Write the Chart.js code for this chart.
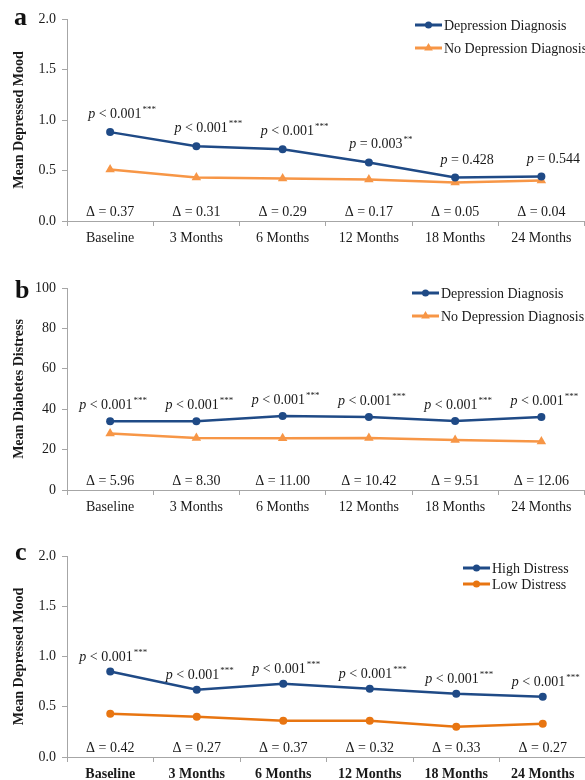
<!DOCTYPE html>
<html>
<head>
<meta charset="utf-8">
<script src="https://cdn.jsdelivr.net/npm/chart.js@4.4.1/dist/chart.umd.min.js"></script>
<style>
html, body { margin: 0; padding: 0; background: #fff; overflow: hidden; }
body { width: 585px; height: 780px; position: relative; }
.panel { position: absolute; left: 0; }
.tag { position: absolute; font: bold 26px 'Liberation Serif', serif; line-height: 1; color: #111; }
</style>
</head>
<body>
<div class="panel" style="top:0"><canvas id="chart-a" width="590" height="250"></canvas></div>
<div class="panel" style="top:270px"><canvas id="chart-b" width="590" height="250"></canvas></div>
<div class="panel" style="top:520px"><canvas id="chart-c" width="590" height="260"></canvas></div>
<div class="tag" style="left:14px;top:4px">a</div>
<div class="tag" style="left:15px;top:277px">b</div>
<div class="tag" style="left:15px;top:539px">c</div>
<script>
const SERIF = "'Liberation Serif', 'Times New Roman', serif";

const timepoints = ['Baseline', '3 Months', '6 Months', '12 Months', '18 Months', '24 Months'];

// panel a - depressed mood by depression diagnosis
const moodDepression = [0.88, 0.74, 0.71, 0.58, 0.43, 0.44];
const moodNoDepression = [0.51, 0.43, 0.42, 0.41, 0.38, 0.40];
const moodPValues = ['< 0.001', '< 0.001', '< 0.001', '= 0.003', '= 0.428', '= 0.544'];
const moodStars = ['***', '***', '***', '**', '', ''];
const moodDeltas = ['0.37', '0.31', '0.29', '0.17', '0.05', '0.04'];
const moodTicks = [0, 0.5, 1, 1.5, 2];

// panel b - diabetes distress by depression diagnosis
const distressDepression = [34.0, 34.0, 36.6, 36.1, 34.2, 36.1];
const distressNoDepression = [28.0, 25.7, 25.6, 25.7, 24.7, 24.0];
const distressPValues = ['< 0.001', '< 0.001', '< 0.001', '< 0.001', '< 0.001', '< 0.001'];
const distressStars = ['***', '***', '***', '***', '***', '***'];
const distressDeltas = ['5.96', '8.30', '11.00', '10.42', '9.51', '12.06'];
const distressTicks = [0, 20, 40, 60, 80, 100];

// panel c - depressed mood by distress level
const moodHighDistress = [0.85, 0.67, 0.73, 0.68, 0.63, 0.60];
const moodLowDistress = [0.43, 0.40, 0.36, 0.36, 0.30, 0.33];
const levelPValues = ['< 0.001', '< 0.001', '< 0.001', '< 0.001', '< 0.001', '< 0.001'];
const levelStars = ['***', '***', '***', '***', '***', '***'];
const levelDeltas = ['0.42', '0.27', '0.37', '0.32', '0.33', '0.27'];

const BLUE = '#1F4A86';
const ORANGE_LIGHT = '#F79646';
const ORANGE = '#E87511';
const TEXT = '#1a1a1a';
const AXIS = '#A6A6A6';

function drawMarker(ctx, style, x, y, r, color) {
    ctx.fillStyle = color;
    ctx.beginPath();
    if (style === 'triangle') {
        ctx.moveTo(x, y - r);
        ctx.lineTo(x + r * 0.87, y + r * 0.5);
        ctx.lineTo(x - r * 0.87, y + r * 0.5);
        ctx.closePath();
    } else {
        ctx.arc(x, y, r, 0, Math.PI * 2);
    }
    ctx.fill();
}

function drawPLabel(ctx, cx, cy, text, stars) {
    const italic = `italic 14px ${SERIF}`;
    const regular = `14px ${SERIF}`;
    const small = `9px ${SERIF}`;
    ctx.font = italic;
    const wp = ctx.measureText('p').width;
    ctx.font = regular;
    const body = ' ' + text;
    const wb = ctx.measureText(body).width;
    ctx.font = small;
    const ws = stars ? ctx.measureText(stars).width + 1 : 0;
    let x = cx - (wp + wb + ws) / 2;
    const base = cy + 5;
    ctx.textAlign = 'left';
    ctx.textBaseline = 'alphabetic';
    ctx.fillStyle = TEXT;
    ctx.font = italic;
    ctx.fillText('p', x, base);
    x += wp;
    ctx.font = regular;
    ctx.fillText(body, x, base);
    x += wb + 1;
    if (stars) {
        ctx.font = small;
        ctx.fillText(stars, x, base - 6);
    }
}

const notesPlugin = {
    id: 'notes',
    afterDatasetsDraw(chart, args, opts) {
        const ctx = chart.ctx;
        const xs = chart.scales.x;
        const ys = chart.scales.y;
        const meta = chart.getDatasetMeta(0);
        ctx.save();

        // p values above the first series
        opts.p.forEach((txt, i) => {
            const pt = meta.data[i];
            drawPLabel(ctx, pt.x + opts.dx, pt.y + opts.dy, txt, opts.stars[i]);
        });

        // differences just above the x axis
        ctx.font = `14px ${SERIF}`;
        ctx.fillStyle = TEXT;
        ctx.textAlign = 'center';
        ctx.textBaseline = 'middle';
        opts.delta.forEach((d, i) => {
            ctx.fillText('\u0394 = ' + d, xs.getPixelForValue(i), ys.bottom - 9);
        });

        // legend: line with marker, then label
        chart.data.datasets.forEach((ds, i) => {
            const lx = opts.legend.x;
            const ly = opts.legend.y + i * opts.legend.gap;
            ctx.strokeStyle = ds.borderColor;
            ctx.lineWidth = 3;
            ctx.beginPath();
            ctx.moveTo(lx, ly);
            ctx.lineTo(lx + 27, ly);
            ctx.stroke();
            drawMarker(ctx, ds.pointStyle, lx + 13.5, ly, ds.pointStyle === 'triangle' ? 5 : 3.5, ds.borderColor);
            ctx.fillStyle = TEXT;
            ctx.font = `14px ${SERIF}`;
            ctx.textAlign = 'left';
            ctx.textBaseline = 'middle';
            ctx.fillText(ds.label, lx + 29, ly + 1);
        });
        ctx.restore();
    }
};

function series(label, data, color, style) {
    return {
        label,
        data,
        borderColor: color,
        backgroundColor: color,
        borderWidth: 2.5,
        pointStyle: style,
        pointRadius: style === 'triangle' ? 5.5 : 4,
        pointBorderWidth: 0,
        tension: 0
    };
}

function makeChart(id, datasets, yCfg, notes) {
    const ctx = document.getElementById(id).getContext('2d');
    return new Chart(ctx, {
        type: 'line',
        data: { labels: timepoints, datasets },
        options: {
            responsive: false,
            animation: false,
            events: [],
            layout: { padding: { top: yCfg.top, right: 0, bottom: 0, left: 0 } },
            plugins: {
                legend: { display: false },
                tooltip: { enabled: false },
                notes
            },
            scales: {
                x: {
                    offset: true,
                    afterFit: s => { s.height = yCfg.xHeight; },
                    grid: { offset: true, drawOnChartArea: false, tickLength: 5, color: AXIS },
                    border: { color: AXIS, width: 1 },
                    ticks: {
                        color: TEXT,
                        padding: 4,
                        maxRotation: 0,
                        font: { family: SERIF, size: 14, weight: yCfg.boldX ? 'bold' : 'normal' }
                    }
                },
                y: {
                    min: 0,
                    max: yCfg.ticks[yCfg.ticks.length - 1],
                    afterFit: s => { s.width = 67; },
                    afterBuildTicks: s => { s.ticks = yCfg.ticks.map(v => ({ value: v })); },
                    grid: { drawOnChartArea: false, tickLength: 5, color: AXIS },
                    border: { color: AXIS, width: 1 },
                    title: {
                        display: true,
                        text: yCfg.title,
                        color: TEXT,
                        padding: { top: 11, bottom: 0 },
                        font: { family: SERIF, size: 14, weight: 'bold' }
                    },
                    ticks: {
                        color: TEXT,
                        padding: 6,
                        font: { family: SERIF, size: 14 },
                        callback: v => yCfg.decimals ? Number(v).toFixed(1) : String(v)
                    }
                }
            }
        },
        plugins: [notesPlugin]
    });
}

makeChart('chart-a', [
    series('Depression Diagnosis', moodDepression, BLUE, 'circle'),
    series('No Depression Diagnosis', moodNoDepression, ORANGE_LIGHT, 'triangle')
], { top: 19, xHeight: 29, ticks: moodTicks, decimals: true, title: 'Mean Depressed Mood' },
{ p: moodPValues, stars: moodStars, delta: moodDeltas, dx: 12, dy: -19, legend: { x: 415, y: 25, gap: 23 } });

makeChart('chart-b', [
    series('Depression Diagnosis', distressDepression, BLUE, 'circle'),
    series('No Depression Diagnosis', distressNoDepression, ORANGE_LIGHT, 'triangle')
], { top: 18, xHeight: 30, ticks: distressTicks, decimals: false, title: 'Mean Diabetes Distress' },
{ p: distressPValues, stars: distressStars, delta: distressDeltas, dx: 3, dy: -17, legend: { x: 412, y: 23, gap: 23 } });

makeChart('chart-c', [
    series('High Distress', moodHighDistress, BLUE, 'circle'),
    series('Low Distress', moodLowDistress, ORANGE, 'circle')
], { top: 36, xHeight: 23, ticks: moodTicks, decimals: true, title: 'Mean Depressed Mood', boldX: true },
{ p: levelPValues, stars: levelStars, delta: levelDeltas, dx: 3, dy: -16, legend: { x: 463, y: 48, gap: 16 } });
</script>
</body>
</html>
